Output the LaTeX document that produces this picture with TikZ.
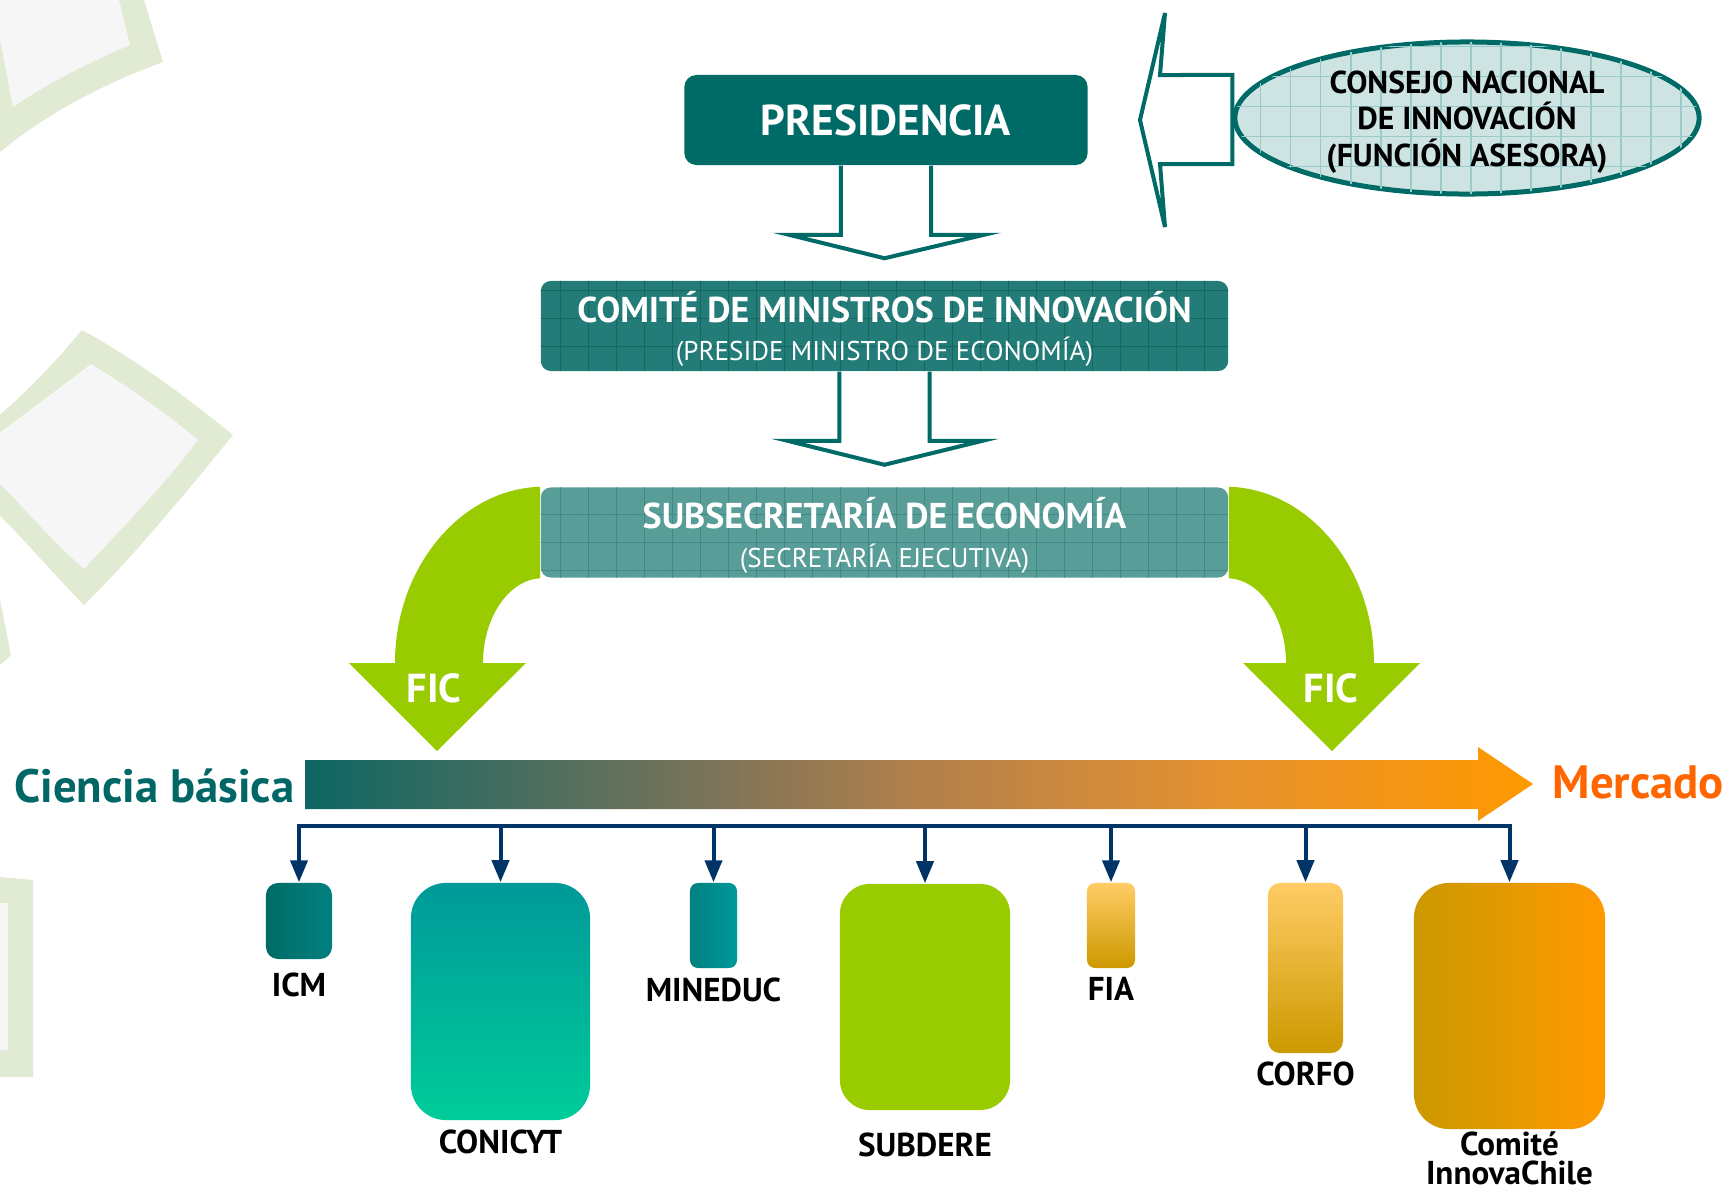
\documentclass[tikz,border=0pt]{standalone}
\usepackage{fontspec}
\setmainfont{PT Sans}
\usetikzlibrary{positioning,shapes.geometric,arrows.meta,patterns.meta}

\definecolor{tealD}{RGB}{0,107,102}
\definecolor{tealM}{RGB}{36,124,120}
\definecolor{tealL}{RGB}{88,157,152}
\definecolor{gridD}{RGB}{22,102,98}
\definecolor{gridL}{RGB}{64,138,134}
\definecolor{consejoF}{RGB}{206,228,227}
\definecolor{consejoG}{RGB}{155,202,202}
\definecolor{greenF}{RGB}{153,204,0}
\definecolor{navy}{RGB}{0,51,102}
\definecolor{orangeT}{RGB}{255,102,0}
\definecolor{cienciaT}{RGB}{0,102,102}
\definecolor{bgGreen}{RGB}{225,234,211}
\definecolor{bgGray}{RGB}{246,246,246}
\definecolor{barA}{RGB}{14,102,100}
\definecolor{barB}{RGB}{120,115,90}
\definecolor{barC}{RGB}{178,128,75}
\definecolor{barD}{RGB}{228,145,48}
\definecolor{barE}{RGB}{255,153,0}

\pgfdeclarehorizontalshading{barshade}{100bp}{color(0bp)=(barA); color(25bp)=(barA);
  color(41bp)=(barB); color(50bp)=(barC); color(62bp)=(barD); color(75bp)=(barE); color(100bp)=(barE)}

\tikzset{
  presbox/.style={rectangle, rounded corners=0.12cm, fill=tealD, text=white,
    minimum width=4.03cm, minimum height=0.9cm, inner sep=0pt,
    font=\fontsize{12.3}{14}\selectfont\bfseries},
  midbox/.style={rectangle, rounded corners=0.1cm, text=white, align=center,
    minimum width=6.87cm, minimum height=0.9cm, inner sep=0pt,
    font=\fontsize{10.2}{11}\selectfont},
  midtext/.style={align=center, inner sep=0pt, text=white, font=\fontsize{10.2}{11}\selectfont},
  hollow/.style={draw=tealD, line width=0.04cm, fill=white, line join=miter},
  fic/.style={fill=greenF},
  ficlbl/.style={text=white, font=\fontsize{11.5}{13}\selectfont\bfseries, inner sep=0pt},
  org/.style={rectangle, inner sep=0pt},
  boxlbl/.style={inner sep=0pt, font=\fontsize{9.4}{8.4}\selectfont\bfseries, align=center},
  bus/.style={draw=navy, line width=0.04cm},
  endlbl/.style={inner sep=0pt, font=\fontsize{13.3}{15}\selectfont\bfseries}
}

\begin{document}
\begin{tikzpicture}[x=0.01cm, y=-0.01cm]
\useasboundingbox (0,0) rectangle (1723,1187);
% Fondo
\begin{scope}
\clip (0,0) rectangle (1723,1187);
\fill[bgGreen] (0,0) -- (144,0) -- (163,62) .. controls (100,85) and (45,115) .. (0,152) -- cycle;
\fill[bgGray] (0,0) -- (119,0) -- (130,45) .. controls (90,62) and (50,82) .. (13,107) -- (0,40) -- cycle;
\fill[bgGreen] (82,330) .. controls (140,362) and (190,400) .. (233,435)
  .. controls (180,500) and (130,560) .. (84,605) .. controls (40,560) and (0,510) .. (-60,460)
  .. controls (0,420) and (40,380) .. (82,330) -- cycle;
\fill[bgGray] (91,364) .. controls (130,388) and (165,412) .. (198,440)
  .. controls (160,490) and (120,530) .. (84,569) .. controls (40,530) and (10,490) .. (-30,455)
  .. controls (10,425) and (50,395) .. (91,364) -- cycle;
\fill[bgGreen] (0,600) -- (11,655) -- (0,665) -- cycle;
\fill[bgGreen] (0,877) -- (33,880) -- (33,1077) -- (0,1077) -- cycle;
\fill[bgGray] (0,903) -- (8,903) -- (8,1050) -- (0,1050) -- cycle;
\end{scope}

% Cajas superiores
\node[presbox] (pres) at (886,120) {PRESIDENCIA};
\node[midbox, fill=tealM, postaction={pattern={Hatch[distance=0.28cm,line width=0.4pt]}, pattern color=gridD}]
  (comite) at (884.5,326) {};
\node[midtext] (comiteT) at (884.5,329) {{\bfseries COMITÉ DE MINISTROS DE INNOVACIÓN}\\
  {\fontsize{7.7}{9}\selectfont (PRESIDE MINISTRO DE ECONOMÍA)}};
\node[midbox, fill=tealL, postaction={pattern={Hatch[distance=0.28cm,line width=0.4pt]}, pattern color=gridL}]
  (subse) at (884.5,532.5) {};
\node[midtext] (subseT) at (884.5,535.5) {{\bfseries SUBSECRETARÍA DE ECONOMÍA}\\
  {\fontsize{7.7}{9}\selectfont (SECRETARÍA EJECUTIVA)}};
\node[ellipse, draw=tealD, line width=0.05cm, fill=consejoF, inner sep=0pt,
  minimum width=4.64cm, minimum height=1.52cm,
  postaction={pattern={Hatch[distance=0.3cm,line width=0.4pt]}, pattern color=consejoG}]
  (consejo) at (1467,118) {};
\node[align=center, inner sep=0pt, font=\fontsize{9}{10.4}\selectfont\bfseries]
  (consejoT) at (1467,122) {CONSEJO NACIONAL\\DE INNOVACIÓN\\(FUNCIÓN ASESORA)};

% Flechas huecas
\foreach \a/\b in {pres/comite, comite/subse}
  \draw[hollow] ([xshift=-0.45cm]\a.south) -- ([xshift=-0.45cm,yshift=-0.69cm]\a.south)
    -- ([xshift=-0.97cm,yshift=-0.69cm]\a.south) -- ([yshift=0.22cm]\b.north)
    -- ([xshift=0.98cm,yshift=-0.69cm]\a.south) -- ([xshift=0.45cm,yshift=-0.69cm]\a.south)
    -- ([xshift=0.45cm]\a.south);
\draw[hollow] ([yshift=0.43cm]consejo.west) -- (1160,75) -- (1165,13) -- (1140,120)
  -- (1165,227) -- (1160,164) -- ([yshift=-0.46cm]consejo.west) -- cycle;

% Flechas FIC
\fill[fic] (subse.north west) .. controls (461,489) and (395,567) .. (395,663) -- (349,663)
  -- (437,751) -- (526,663) -- (483,663) .. controls (483,617) and (509,580) .. (subse.south west) -- cycle;
\fill[fic] (subse.north east) .. controls (1308,489) and (1374,567) .. (1374,663) -- (1420,663)
  -- (1332,751) -- (1243,663) -- (1286,663) .. controls (1286,617) and (1260,580) .. (subse.south east) -- cycle;
\node[ficlbl] (ficL) at (434,688) {FIC};
\node[ficlbl] (ficR) at (1331,688) {FIC};

% Barra degradada
\shade[shading=barshade] (305,760) -- (1478,760) -- (1478,747) -- (1533,784) -- (1478,821)
  -- (1478,809) -- (305,809) -- cycle;
\node[endlbl, text=cienciaT, anchor=east] (ciencia) at (295,786) {Ciencia básica};
\node[endlbl, text=orangeT, anchor=west] (mercado) at (1552,782) {Mercado};

% Instituciones
\node[org, rounded corners=0.12cm, left color=tealD, right color={rgb,255:red,0;green,128;blue,128},
  minimum width=0.66cm, minimum height=0.76cm] (icm) at (299,921) {};
\node[org, rounded corners=0.35cm, top color={rgb,255:red,0;green,153;blue,153},
  bottom color={rgb,255:red,0;green,204;blue,153},
  minimum width=1.79cm, minimum height=2.37cm] (conicyt) at (500.5,1001.5) {};
\node[org, rounded corners=0.08cm, left color={rgb,255:red,0;green,128;blue,128},
  right color={rgb,255:red,0;green,153;blue,153},
  minimum width=0.47cm, minimum height=0.85cm] (mineduc) at (713.5,925.5) {};
\node[org, rounded corners=0.3cm, fill=greenF,
  minimum width=1.7cm, minimum height=2.26cm] (subdere) at (925,997) {};
\node[org, rounded corners=0.08cm, top color={rgb,255:red,255;green,204;blue,102},
  bottom color={rgb,255:red,204;green,153;blue,0},
  minimum width=0.48cm, minimum height=0.85cm] (fia) at (1111,925.5) {};
\node[org, rounded corners=0.12cm, top color={rgb,255:red,255;green,204;blue,102},
  bottom color={rgb,255:red,204;green,153;blue,0},
  minimum width=0.75cm, minimum height=1.7cm] (corfo) at (1305.5,968) {};
\node[org, rounded corners=0.35cm, left color={rgb,255:red,204;green,153;blue,0},
  right color={rgb,255:red,255;green,153;blue,0},
  minimum width=1.91cm, minimum height=2.46cm] (innova) at (1509.5,1006) {};

\node[boxlbl, below=0.12cm of icm] (icmL) {ICM};
\node[boxlbl, below=0.08cm of conicyt] (conicytL) {CONICYT};
\node[boxlbl, below=0.08cm of mineduc] (mineducL) {MINEDUC};
\node[boxlbl, below=0.21cm of subdere] (subdereL) {SUBDERE};
\node[boxlbl, below=0.08cm of fia] (fiaL) {FIA};
\node[boxlbl, below=0.07cm of corfo] (corfoL) {CORFO};
\node[boxlbl, below=0.01cm of innova] (innovaL) {Comité\\InnovaChile};

% Distribucion
\coordinate (busL) at (297,826);
\draw[bus, line cap=rect] (icm.north |- busL) -- (innova.north |- busL);
\foreach \b in {icm,conicyt,mineduc,subdere,fia,corfo,innova}
  \draw[bus, -{Triangle[length=0.22cm,width=0.17cm]}] (\b.north |- busL) -- (\b.north);
\end{tikzpicture}
\end{document}
